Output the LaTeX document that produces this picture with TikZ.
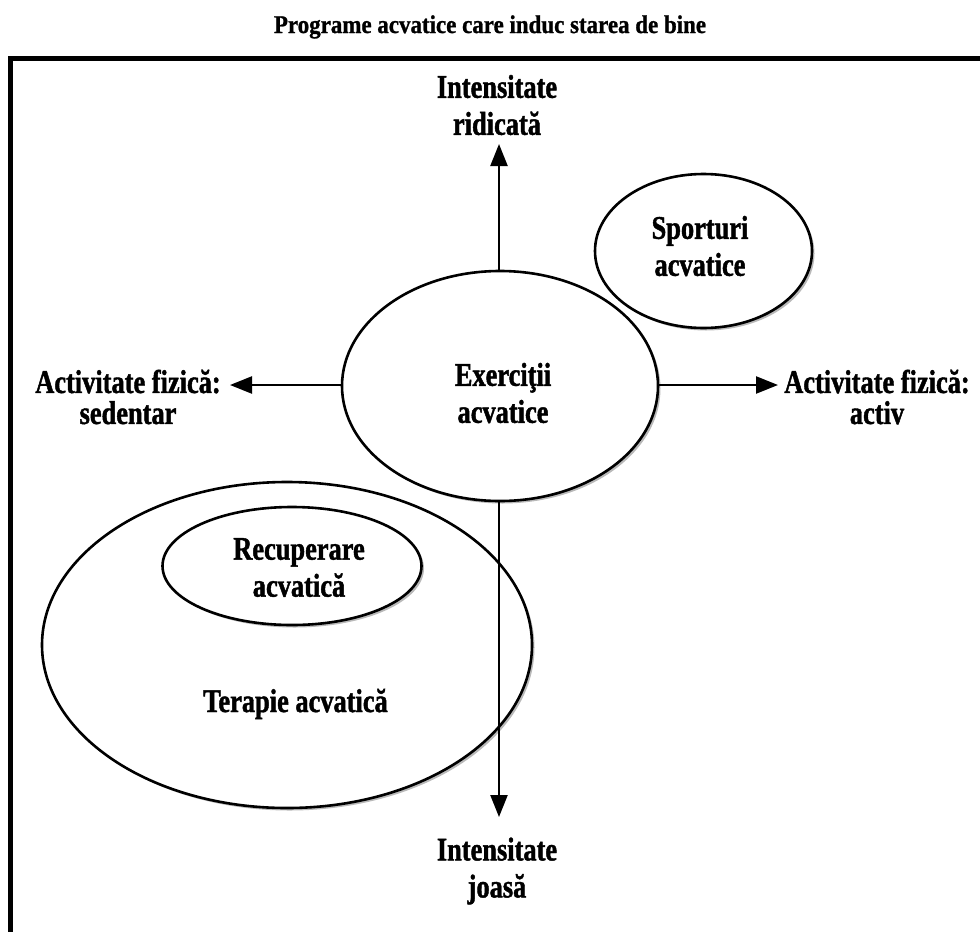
\documentclass[tikz,border=0pt]{standalone}
\usepackage{fontspec}
\setmainfont{Liberation Serif}
\newfontfamily\lblfont{Liberation Serif}[FakeStretch=0.8,FakeBold=1.3]
\newfontfamily\ttlfont{Liberation Serif}[FakeStretch=0.9,FakeBold=1]
\usetikzlibrary{shapes.geometric,arrows.meta,shadows}
\tikzset{
  oval/.style={ellipse, draw=black, line width=2.6pt, fill=white, inner sep=0pt,
    drop shadow={shadow xshift=2.5pt, shadow yshift=-2.5pt, fill=gray!55, opacity=1}},
  lbl/.style={font=\lblfont\bfseries\fontsize{33}{37}\selectfont, align=center, inner sep=0pt},
  sidelbl/.style={font=\lblfont\bfseries\fontsize{33}{31}\selectfont, align=center, inner sep=0pt},
  ttl/.style={font=\ttlfont\bfseries\fontsize{25.5}{29}\selectfont, inner sep=0pt, anchor=base},
  axisarrow/.style={line width=2.4pt, -{Triangle[length=22pt,width=17pt]}},
  frameline/.style={line width=5pt},
}
\begin{document}
\begin{tikzpicture}[x=1pt,y=-1pt]
\useasboundingbox (0,0) rectangle (980,932);
% frame
\draw[frameline] (980,58.5) -- (10.5,58.5) -- (10.5,932);
% title
\node[ttl] (title) at (490,33) {Programe acvatice care induc starea de bine};
% ellipses
\node[oval, minimum width=490pt, minimum height=326pt] (ter) at (287,645) {};
\node[oval, minimum width=259pt, minimum height=118pt] (rec) at (292,566) {};
\node[oval, minimum width=316pt, minimum height=230pt] (ex) at (500,386) {};
\node[oval, minimum width=217pt, minimum height=154pt] (sp) at (703.5,251) {};
% labels
\node[lbl] (exT) at (503,393) {Exerciţii\\acvatice};
\node[lbl] (spT) at (700,246) {Sporturi\\acvatice};
\node[lbl] (recT) at (299,567.5) {Recuperare\\acvatică};
\node[lbl, anchor=base] (terT) at (295.5,712) {Terapie acvatică};
\node[lbl] (upT) at (497,105) {Intensitate\\ridicată};
\node[lbl] (downT) at (497,871) {Intensitate\\joasă};
\node[sidelbl] (leftT) at (128,397) {Activitate fizică:\\sedentar};
\node[sidelbl] (rightT) at (877,397) {Activitate fizică:\\activ};
% axes
\coordinate (upTip) at (499,144);
\coordinate (downTip) at (499,817);
\coordinate (leftTip) at (230,385);
\coordinate (rightTip) at (778,385);
\draw[axisarrow] (upTip |- ex.north) -- (upTip);
\draw[axisarrow] (downTip |- ex.south) -- (downTip);
\draw[axisarrow] (ex.west |- leftTip) -- (leftTip);
\draw[axisarrow] (ex.east |- rightTip) -- (rightTip);
\end{tikzpicture}
\end{document}
